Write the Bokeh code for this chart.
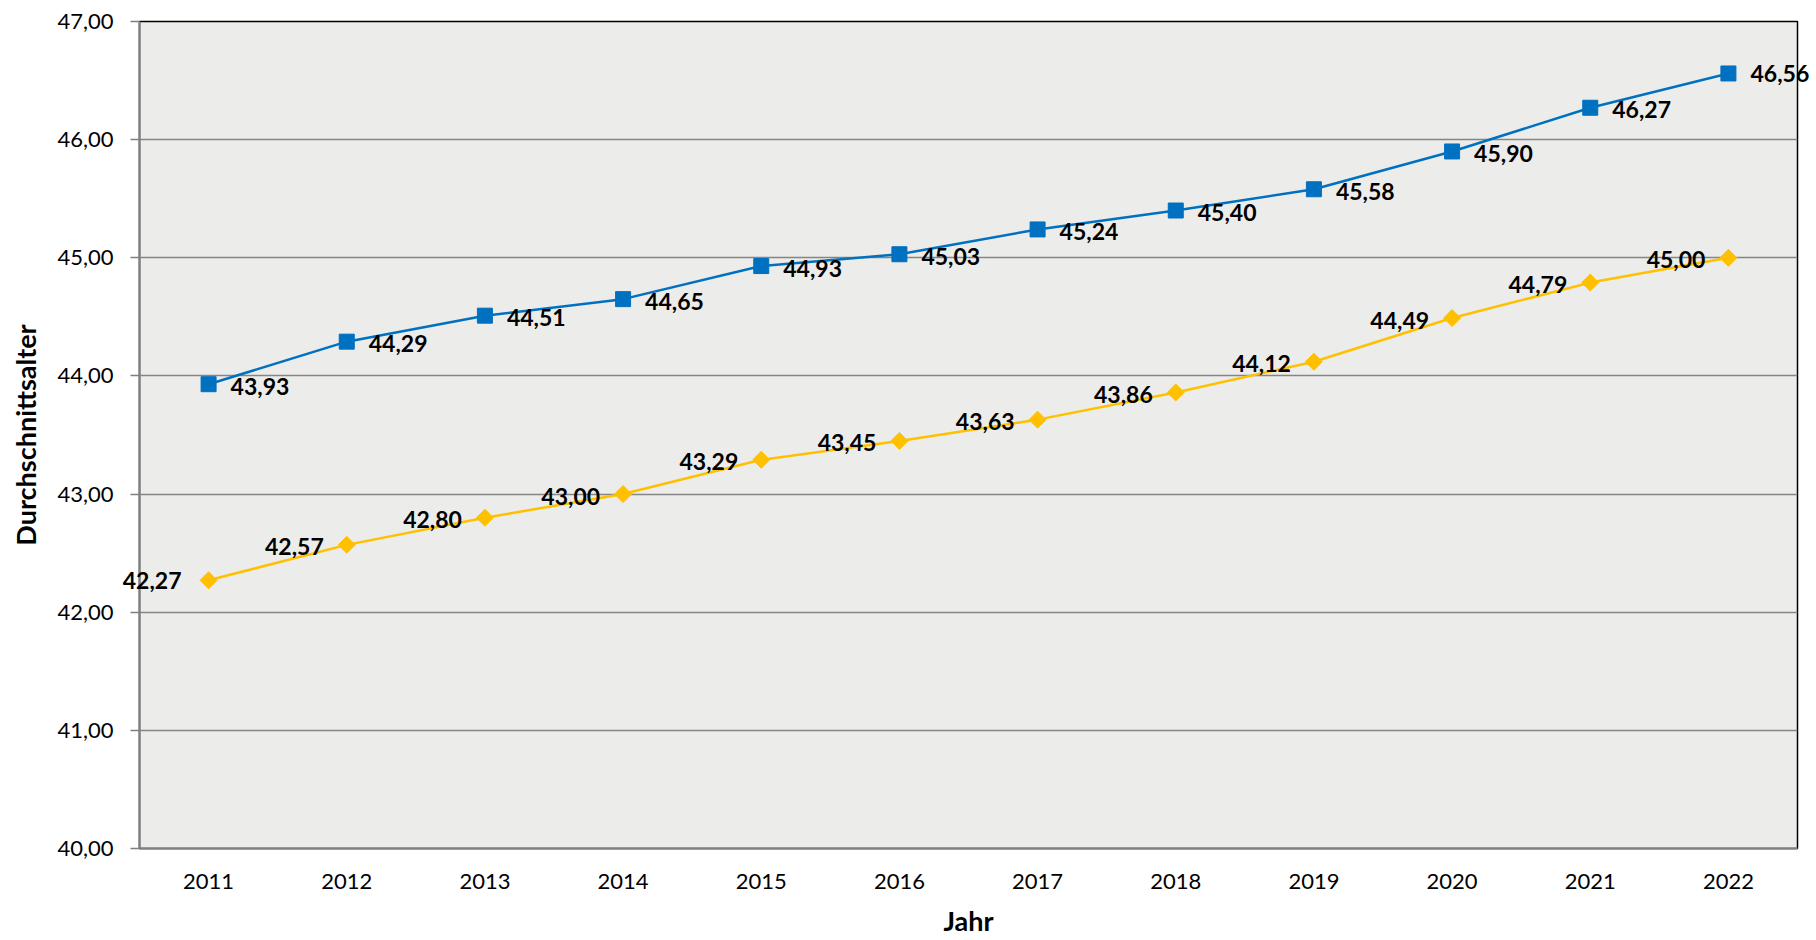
from bokeh.plotting import figure
from bokeh.models import ColumnDataSource, Label, FixedTicker, LinearAxis
from bokeh.embed import file_html
from bokeh.resources import INLINE
import numpy as np

years = ["2011", "2012", "2013", "2014", "2015", "2016", "2017", "2018", "2019", "2020", "2021", "2022"]
series_blue = [43.93, 44.29, 44.51, 44.65, 44.93, 45.03, 45.24, 45.40, 45.58, 45.90, 46.27, 46.56]
series_gold = [42.27, 42.57, 42.80, 43.00, 43.29, 43.45, 43.63, 43.86, 44.12, 44.49, 44.79, 45.00]
y_ticks = [40, 41, 42, 43, 44, 45, 46, 47]


def fmt(v):
    return f"{v:.2f}".replace(".", ",")


FONT = "Lato"
BLUE = "#0070C0"
GOLD = "#FFC000"

src_b = ColumnDataSource(dict(x=years, y=series_blue))
src_g = ColumnDataSource(dict(x=years, y=series_gold))

p = figure(x_range=years, y_range=(40, 47), width=1816, height=940,
           output_backend="svg", toolbar_location=None,
           min_border_left=139, min_border_right=19, min_border_top=21, min_border_bottom=92)

p.background_fill_color = "#ececea"
p.border_fill_color = "white"
p.outline_line_color = "black"
p.outline_line_width = 1.5

p.line("x", "y", source=src_b, line_color=BLUE, line_width=2.5)
p.scatter("x", "y", source=src_b, marker="square", size=15, fill_color=BLUE, line_color=BLUE)
p.line("x", "y", source=src_g, line_color=GOLD, line_width=2.5)
p.scatter("x", "y", source=src_g, marker="square", angle=np.pi / 4, size=12, fill_color=GOLD, line_color=GOLD)

# grid
p.xgrid.grid_line_color = None
p.ygrid.grid_line_color = "#858585"
p.ygrid.grid_line_width = 1.5
p.ygrid.ticker = FixedTicker(ticks=y_ticks)

# y axis
ya = p.yaxis[0]
ya.ticker = FixedTicker(ticks=y_ticks)
ya.major_label_overrides = {t: fmt(t) for t in y_ticks}
ya.axis_line_color = "#808080"
ya.axis_line_width = 2
ya.major_tick_line_color = "#808080"
ya.major_tick_line_width = 1.5
ya.major_tick_out = 9
ya.major_tick_in = 0
ya.minor_tick_line_color = None
ya.major_label_standoff = 17
ya.major_label_text_font = FONT
ya.major_label_text_font_size = "22px"
ya.major_label_text_color = "black"
ya.axis_label = "Durchschnittsalter"
ya.axis_label_text_font = FONT
ya.axis_label_text_font_style = "bold"
ya.axis_label_text_font_size = "27px"
ya.axis_label_standoff = 12
ya.axis_label_text_color = "black"

# x axis
xa = p.xaxis[0]
xa.axis_line_color = "#808080"
xa.axis_line_width = 2
xa.major_tick_line_color = None
xa.major_tick_out = 0
xa.major_tick_in = 0
xa.major_label_standoff = 25
xa.major_label_text_font = FONT
xa.major_label_text_font_size = "22px"
xa.major_label_text_color = "black"
xa.axis_label = "Jahr"
xa.axis_label_text_font = FONT
xa.axis_label_text_font_style = "bold"
xa.axis_label_text_font_size = "27px"
xa.axis_label_standoff = 12
xa.axis_label_text_color = "black"

# data labels (inside the frame)
n = len(years)
for i, v in enumerate(series_blue):
    if i == n - 1:
        continue
    p.add_layout(Label(x=i + 0.5, y=v, text=fmt(v), x_offset=22, y_offset=-2,
                       text_align="left", text_baseline="middle", text_font=FONT,
                       text_font_style="bold", text_font_size="23px", text_color="black"))
for i, v in enumerate(series_gold):
    if i == 0:
        continue
    p.add_layout(Label(x=i + 0.5, y=v, text=fmt(v), x_offset=-23, y_offset=-2,
                       text_align="right", text_baseline="middle", text_font=FONT,
                       text_font_style="bold", text_font_size="23px", text_color="black"))


# the two labels that run past the frame edge are drawn by side-panel axes
# (not clipped by the frame) whose label standoff pulls them back over the frame
def label_axis(val, standoff):
    ax = LinearAxis(ticker=FixedTicker(ticks=[val]),
                    major_label_overrides={val: fmt(val)})
    ax.axis_line_color = None
    ax.major_tick_line_color = None
    ax.minor_tick_line_color = None
    ax.major_tick_out = 0
    ax.major_tick_in = 0
    ax.major_label_standoff = standoff
    ax.major_label_text_font = FONT
    ax.major_label_text_font_style = "bold"
    ax.major_label_text_font_size = "23px"
    ax.major_label_text_color = "black"
    return ax


p.add_layout(label_axis(series_gold[0], -175), "left")
p.add_layout(label_axis(series_blue[-1], -47), "right")

open("out.html", "w").write(file_html(p, INLINE))
